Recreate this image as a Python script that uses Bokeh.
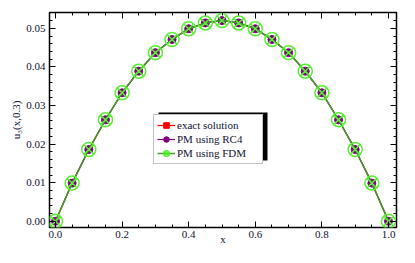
from bokeh.plotting import figure
from bokeh.models import (Range1d, FixedTicker, LinearAxis, NumeralTickFormatter,
                          Legend, LegendItem, BoxAnnotation)
from bokeh.embed import file_html
from bokeh.resources import INLINE

# data
x_vals = [0.0, 0.05, 0.1, 0.15, 0.2, 0.25, 0.3, 0.35, 0.4, 0.45, 0.5,
          0.55, 0.6, 0.65, 0.7, 0.75, 0.8, 0.85, 0.9, 0.95, 1.0]
exact = [0.0, 0.0099, 0.0186, 0.0263, 0.0333, 0.0389, 0.0437, 0.0471, 0.0499, 0.0514, 0.0520,
         0.0514, 0.0499, 0.0471, 0.0437, 0.0389, 0.0333, 0.0263, 0.0186, 0.0099, 0.0]
pm_rc4 = [0.0, 0.0099, 0.0186, 0.0263, 0.0333, 0.0389, 0.0437, 0.0471, 0.0499, 0.0514, 0.0520,
          0.0514, 0.0499, 0.0471, 0.0437, 0.0389, 0.0333, 0.0263, 0.0186, 0.0099, 0.0]
pm_fdm = [0.0, 0.0099, 0.0186, 0.0263, 0.0333, 0.0389, 0.0437, 0.0471, 0.0499, 0.0514, 0.0520,
          0.0514, 0.0499, 0.0471, 0.0437, 0.0389, 0.0333, 0.0263, 0.0186, 0.0099, 0.0]
x_ticks = [0.0, 0.2, 0.4, 0.6, 0.8, 1.0]
x_minor = [i * 0.05 for i in range(-1, 22)]
y_ticks = [0.00, 0.01, 0.02, 0.03, 0.04, 0.05]
y_minor = [i * 0.002 for i in range(-1, 28)]
labels = ["exact solution", "PM using RC4", "PM using FDM"]
x_title = "x"
y_title = "u\u2083(x,0.3)"

FONT = "Liberation Serif"
TXT = "#111133"

p = figure(width=399, height=247, output_backend="svg", toolbar_location=None,
           x_range=Range1d(-0.018, 1.024), y_range=Range1d(-0.0016, 0.0541),
           min_border_left=49, min_border_right=3, min_border_top=12, min_border_bottom=20)
p.background_fill_color = "white"
p.border_fill_color = "white"
p.grid.visible = False
p.outline_line_color = "black"
p.outline_line_width = 1.5

xt = FixedTicker(ticks=x_ticks, minor_ticks=x_minor)
yt = FixedTicker(ticks=y_ticks, minor_ticks=y_minor)

def style(ax, show):
    ax.axis_line_color = None
    ax.major_tick_in = 6
    ax.major_tick_out = 0
    ax.minor_tick_in = 3
    ax.minor_tick_out = 0
    ax.major_tick_line_color = "black"
    ax.minor_tick_line_color = "black"
    ax.major_label_text_font = FONT
    if show:
        ax.major_label_text_color = TXT
        ax.major_label_text_font_size = "11px"
        ax.major_label_standoff = 4
    else:
        ax.major_label_text_color = None
        ax.major_label_text_font_size = "1px"
        ax.major_label_standoff = 0

xa = p.xaxis[0]
xa.ticker = xt
xa.formatter = NumeralTickFormatter(format="0.0")
style(xa, True)
xa.major_label_standoff = 3
xa.axis_label = x_title
xa.axis_label_text_font = FONT
xa.axis_label_text_font_style = "normal"
xa.axis_label_text_font_size = "11px"
xa.axis_label_text_color = TXT
xa.axis_label_standoff = -8

ya = p.yaxis[0]
ya.ticker = yt
ya.formatter = NumeralTickFormatter(format="0.00")
style(ya, True)
ya.axis_label = y_title
ya.axis_label_text_font = FONT
ya.axis_label_text_font_style = "normal"
ya.axis_label_text_font_size = "11px"
ya.axis_label_text_color = TXT
ya.axis_label_standoff = 1

top = LinearAxis(ticker=xt)
style(top, False)
p.add_layout(top, "above")
right = LinearAxis(ticker=yt)
style(right, False)
p.add_layout(right, "right")

l1 = p.line(x_vals, exact, line_color="red", line_width=1.2)
m1 = p.scatter(x_vals, exact, marker="square", size=6, fill_color="red", line_color="red")
l2 = p.line(x_vals, pm_rc4, line_color="purple", line_width=1.2)
m2 = p.scatter(x_vals, pm_rc4, marker="circle", size=8, fill_color="purple", line_color="purple")
l3 = p.line(x_vals, pm_fdm, line_color="#3aa02a", line_width=1.5)
m3 = p.scatter(x_vals, pm_fdm, marker="circle_x", size=14, fill_color=None,
               line_color="#55f030", line_width=1.5)

shadow = BoxAnnotation(left=158, right=267, top=112, bottom=160,
                       left_units="canvas", right_units="canvas",
                       top_units="canvas", bottom_units="canvas",
                       fill_color="black", fill_alpha=1.0, line_color=None)
p.add_layout(shadow)

legend = Legend(items=[LegendItem(label=labels[0], renderers=[l1, m1]),
                       LegendItem(label=labels[1], renderers=[l2, m2]),
                       LegendItem(label=labels[2], renderers=[l3, m3])],
                location=(104, 63))
legend.label_text_font = FONT
legend.label_text_font_size = "11px"
legend.label_text_color = TXT
legend.glyph_width = 18
legend.glyph_height = 14
legend.label_height = 14
legend.label_width = 82
legend.label_standoff = 2
legend.spacing = 0
legend.padding = 3
legend.margin = 0
legend.border_line_color = "#888888"
legend.border_line_width = 1
legend.background_fill_color = "white"
legend.background_fill_alpha = 1.0
p.add_layout(legend, "center")

open("out.html", "w").write(file_html(p, INLINE))
